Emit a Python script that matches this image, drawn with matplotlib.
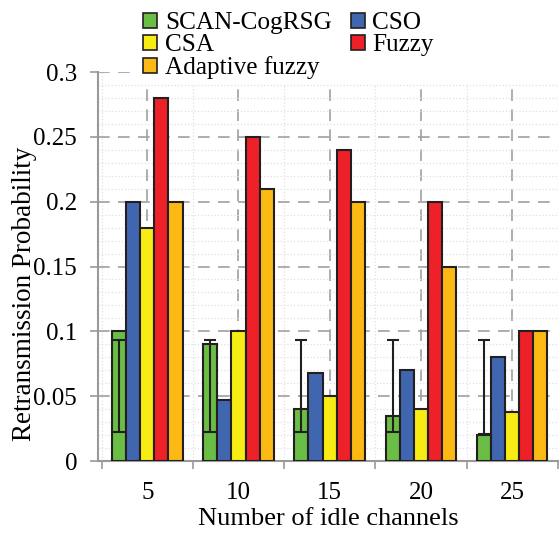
import numpy as np
import matplotlib
matplotlib.use("Agg")
from matplotlib import pyplot as plt
from matplotlib.patches import Rectangle, Patch

plt.rcParams["font.family"] = ["Liberation Serif", "DejaVu Serif"]

channels = ["5", "10", "15", "20", "25"]
methods = ["SCAN-CogRSG", "CSO", "CSA", "Fuzzy", "Adaptive fuzzy"]
scan = [0.1, 0.09, 0.04, 0.035, 0.02]
cso = [0.2, 0.047, 0.068, 0.07, 0.08]
csa = [0.18, 0.1, 0.05, 0.04, 0.038]
fuzzy = [0.28, 0.25, 0.24, 0.2, 0.1]
adaptive = [0.2, 0.21, 0.2, 0.15, 0.1]
# error bar on the SCAN-CogRSG bars (low / high ends)
scan_err_low = [0.022, 0.022, 0.022, 0.022, 0.021]
scan_err_high = [0.093, 0.093, 0.093, 0.093, 0.093]

colors = ["#6abd45", "#4166b0", "#f7ec13", "#ee2028", "#fdb913"]
edge = "#231f20"

fig = plt.figure(figsize=(5.6, 5.35), dpi=100)
ax = fig.add_axes([0.175, 0.1383, 0.821, 0.7271])

x = np.arange(len(channels))
w = 0.155
series = [scan, cso, csa, fuzzy, adaptive]
for i, (vals, c) in enumerate(zip(series, colors)):
    ax.bar(x + (i - 2) * w, vals, w, color=c, edgecolor=edge, linewidth=1.5,
           label=methods[i], zorder=3)

mid = [(lo + hi) / 2 for lo, hi in zip(scan_err_low, scan_err_high)]
half_lo = [m - lo for m, lo in zip(mid, scan_err_low)]
half_hi = [hi - m for m, hi in zip(mid, scan_err_high)]
ax.errorbar(x - 2 * w, mid, yerr=[half_lo, half_hi], fmt="none", ecolor=edge,
            elinewidth=1.5, capsize=4.5, capthick=1.5, zorder=4)

ax.set_xlim(-0.54, 4.5)
ax.set_ylim(0, 0.3)
ax.set_xticks(x)
ax.set_xticklabels(channels)
ax.set_xticks(np.arange(-0.5, 5, 1), minor=True)
ax.set_yticks(np.arange(0, 0.31, 0.05))
ax.set_yticklabels(["0", "0.05", "0.1", "0.15", "0.2", "0.25", "0.3"])
ax.set_yticks(np.arange(0, 0.301, 0.01), minor=True)

ax.tick_params(axis="x", which="major", length=0, pad=15, labelsize=18)
ax.tick_params(axis="x", which="minor", length=6, width=1.2, color="#999999",
               direction="out")
ax.tick_params(axis="y", which="major", length=6, width=1.2, color="#999999",
               labelsize=18, pad=9)
ax.tick_params(axis="y", which="minor", length=0)

ax.grid(True, which="major", color="#a0a0a0", linestyle=(0, (7, 5)), linewidth=1.2)
ax.grid(True, which="minor", color="#e0e0e0", linestyle=":", linewidth=0.9)
ax.set_axisbelow(True)

for s in ["top", "right"]:
    ax.spines[s].set_visible(False)
for s in ["left", "bottom"]:
    ax.spines[s].set_color("#999999")
    ax.spines[s].set_linewidth(1.5)

ax.set_xlabel("Number of idle channels", fontsize=19, labelpad=3)
ax.set_ylabel("Retransmission Probability", fontsize=19.5)
ax.yaxis.set_label_coords(-0.132, 0.43)

# white area behind legend
ax.add_patch(Rectangle((0.07, 0.969), 1.0, 0.2, transform=ax.transAxes,
                       facecolor="white", edgecolor="none", clip_on=False, zorder=5))

handles = [Patch(facecolor=c, edgecolor=edge, linewidth=1.2) for c in colors]
order = [0, 2, 4, 1, 3]
leg = fig.legend([handles[i] for i in order], [methods[i] for i in order],
                 ncol=2, loc="upper left", bbox_to_anchor=(0.229, 1.005),
                 frameon=False, fontsize=18.2, handlelength=0.55, handleheight=0.55,
                 handletextpad=0.3, labelspacing=0.0, columnspacing=0.75,
                 borderpad=0.1)
leg.set_zorder(6)

fig.savefig("out.png", dpi=100)
